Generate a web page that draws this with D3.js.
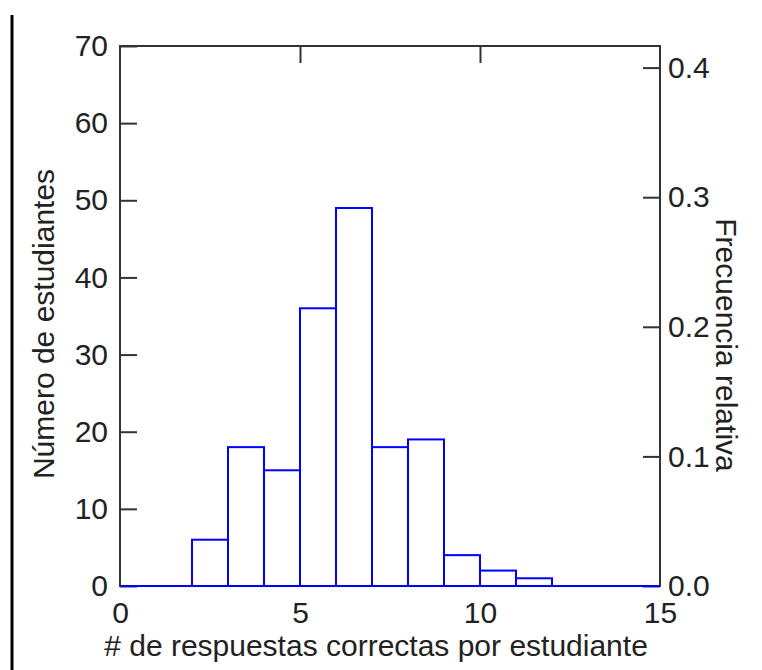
<!DOCTYPE html>
<html><head><meta charset="utf-8">
<script src="https://cdn.jsdelivr.net/npm/d3@7"></script>
<style>body{margin:0;background:#fff}svg{display:block}text{font-family:"Liberation Sans",Arial,sans-serif;fill:#222}</style>
</head><body><svg id="c" width="762" height="670"></svg>
<script>
const binStarts = [2,3,4,5,6,7,8,9,10,11];
const counts = [6,18,15,36,49,18,19,4,2,1];
const xTicks = [0,5,10,15];
const yTicks = [0,10,20,30,40,50,60,70];
const relTicks = [0.0,0.1,0.2,0.3,0.4];
const xTitle = "# de respuestas correctas por estudiante";
const yTitle = "Número de estudiantes";
const y2Title = "Frecuencia relativa";

const total = d3.sum(counts);
const svg = d3.select("#c");
const L=120,R=660,T=46,B=586;
const x = d3.scaleLinear().domain([0,15]).range([L,R]);
const y = d3.scaleLinear().domain([0,70]).range([B,T]);
const y2 = d3.scaleLinear().domain([0,70/total]).range([B,T]);

// left border line
svg.append("line").attr("x1",12).attr("x2",12).attr("y1",15).attr("y2",670).attr("stroke","#000").attr("stroke-width",3);

const fs = 30;
// frame
svg.append("rect").attr("x",L).attr("y",T).attr("width",R-L).attr("height",B-T).attr("fill","none").attr("stroke","#333").attr("stroke-width",2);

const gl = svg.append("g").attr("transform",`translate(${L},0)`).call(d3.axisLeft(y).tickValues(yTicks).tickSize(-17).tickPadding(12).tickFormat(d3.format("d")));
const gr = svg.append("g").attr("transform",`translate(${R},0)`).call(d3.axisRight(y2).tickValues(relTicks).tickSize(-17).tickPadding(8).tickFormat(d3.format(".1f")));
const gt = svg.append("g").attr("transform",`translate(0,${T})`).call(d3.axisBottom(x).tickValues(xTicks).tickSize(17).tickFormat(""));
const gb = svg.append("g").attr("transform",`translate(0,${B})`).call(d3.axisBottom(x).tickValues(xTicks).tickSize(0).tickPadding(16).tickFormat(d3.format("d")));
[gl,gr,gt,gb].forEach(g=>{g.select(".domain").remove();g.selectAll("line").attr("stroke","#333").attr("stroke-width",2);g.selectAll("text").attr("font-size",fs).attr("fill","#222").style("font-family",'"Liberation Sans",Arial,sans-serif');});
gt.selectAll(".tick").filter(d=>d===0||d===15).remove();

// histogram
const bars = binStarts.map((s,i)=>({x0:s,x1:s+1,c:counts[i]}));
svg.append("line").attr("x1",x(0)).attr("x2",x(15)).attr("y1",y(0)).attr("y2",y(0)).attr("stroke","#0000ff").attr("stroke-width",2);
svg.selectAll("rect.bar").data(bars).join("rect").attr("class","bar")
  .attr("x",d=>x(d.x0)).attr("y",d=>y(d.c)).attr("width",d=>x(d.x1)-x(d.x0)).attr("height",d=>y(0)-y(d.c))
  .attr("fill","none").attr("stroke","#0000ff").attr("stroke-width",2);

// titles
svg.append("text").attr("x",376).attr("y",656).attr("text-anchor","middle").attr("font-size",fs).text(xTitle);
svg.append("text").attr("transform","translate(54,324) rotate(-90)").attr("text-anchor","middle").attr("font-size",fs).text(yTitle);
svg.append("text").attr("transform","translate(716,345) rotate(90)").attr("text-anchor","middle").attr("font-size",fs).text(y2Title);
</script></body></html>
